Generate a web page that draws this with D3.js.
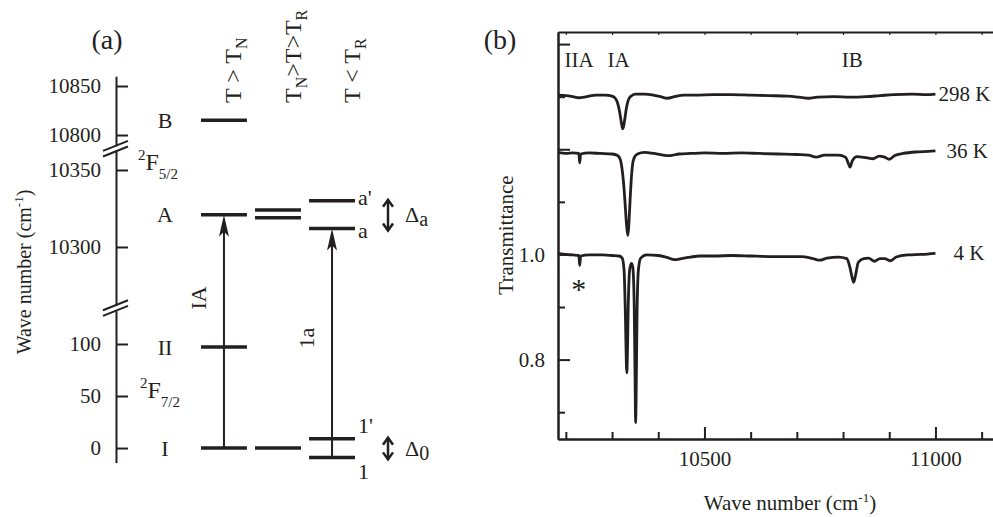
<!DOCTYPE html>
<html>
<head>
<meta charset="utf-8">
<script src="https://cdn.jsdelivr.net/npm/d3@7"></script>
<style>
  body { margin: 0; background: #fff; }
  text { font-family: "Liberation Serif", "Times New Roman", serif; fill: #231f20; }
</style>
</head>
<body>
<svg id="fig" width="993" height="517"></svg>
<script>
// ---------- panel (a): energy levels (cm-1) ----------
var lowTicks = [0, 50, 100];
var midTicks = [10300, 10350];
var highTicks = [10800, 10850];

var col1Names = ["I", "II", "A", "B"];
var col1Values = [0, 97, 10321, 10815];
var col2Values = [0, 10319, 10324];
var col3Names = ["1", "1'", "a", "a'"];
var col3Values = [-9, 9, 10312, 10330];

// ---------- panel (b): transmittance spectra [wave number, T] ----------
var spec298 = [[10183,1.303],[10200,1.302],[10215,1.300],[10228,1.298],[10245,1.300],[10265,1.303],
  [10285,1.303],[10300,1.301],[10307,1.297],[10312,1.288],[10316,1.273],[10319,1.257],[10321,1.246],
  [10323,1.239],[10325,1.244],[10328,1.260],[10331,1.278],[10335,1.293],[10341,1.301],[10350,1.305],
  [10370,1.305],[10390,1.303],[10405,1.300],[10420,1.297],[10435,1.300],[10455,1.303],[10480,1.303],
  [10520,1.304],[10560,1.304],[10600,1.303],[10640,1.302],[10680,1.301],[10705,1.299],[10725,1.297],
  [10745,1.299],[10780,1.300],[10815,1.299],[10850,1.300],[10880,1.302],[10910,1.304],[10950,1.305],
  [10980,1.304],[11000,1.305]];

var spec36 = [[10183,1.194],[10200,1.192],[10215,1.193],[10228,1.192],[10230,1.174],[10232,1.191],
  [10250,1.193],[10275,1.192],[10300,1.191],[10312,1.188],[10318,1.180],[10322,1.160],[10325,1.135],
  [10328,1.100],[10331,1.060],[10334,1.036],[10336,1.052],[10338,1.085],[10341,1.135],[10344,1.168],
  [10348,1.184],[10355,1.191],[10370,1.194],[10390,1.192],[10410,1.189],[10425,1.188],[10445,1.191],
  [10470,1.192],[10500,1.193],[10540,1.192],[10580,1.193],[10620,1.192],[10660,1.191],[10700,1.190],
  [10725,1.189],[10742,1.185],[10760,1.189],[10790,1.189],[10805,1.185],[10812,1.172],[10815,1.166],
  [10820,1.178],[10830,1.186],[10850,1.184],[10865,1.182],[10878,1.187],[10890,1.185],[10900,1.181],
  [10912,1.188],[10930,1.192],[10960,1.195],[10985,1.196],[11000,1.197]];

var spec4 = [[10183,1.002],[10200,1.000],[10215,0.999],[10228,0.998],[10230,0.979],[10232,0.997],
  [10250,0.999],[10280,0.999],[10300,0.998],[10315,0.997],[10322,0.993],[10326,0.970],[10329,0.880],
  [10331,0.790],[10332,0.775],[10333,0.800],[10335,0.900],[10338,0.970],[10342,0.983],[10345,0.975],
  [10348,0.900],[10350,0.750],[10351,0.680],[10352,0.720],[10354,0.880],[10357,0.970],[10362,0.993],
  [10375,0.999],[10400,0.998],[10420,0.994],[10435,0.990],[10450,0.992],[10470,0.995],[10490,0.997],
  [10520,0.997],[10560,0.998],[10600,0.997],[10640,0.996],[10680,0.996],[10710,0.996],[10735,0.992],
  [10750,0.989],[10765,0.993],[10790,0.995],[10808,0.992],[10815,0.975],[10820,0.955],[10823,0.947],
  [10827,0.960],[10833,0.985],[10845,0.992],[10855,0.993],[10868,0.987],[10880,0.992],[10890,0.992],
  [10903,0.988],[10915,0.995],[10940,0.999],[10970,1.000],[11000,1.002]];

var specLabels = ["298 K", "36 K", "4 K"];
var xMajor = [10500, 11000];
var xMinor = [10200, 10300, 10400, 10600, 10700, 10800, 10900, 11100];
var yMajor = [0.8, 1.0, 1.2, 1.4];
var yMinor = [0.7, 0.9, 1.1, 1.3];
var peakNames = ["IIA", "IA", "IB"];
var peakWaves = [10197, 10290, 10797];

var ink = "#231f20";
var svg = d3.select("#fig");

function styleAxis(g, size) {
  g.attr("font-size", size).attr("font-family", null);
  g.selectAll("path, line").attr("stroke", ink).attr("stroke-width", 2);
  g.selectAll("text").attr("fill", ink);
}

// ================= panel (a) =================
var axX = 116;
var yLow = d3.scaleLinear().domain([-14, 132]).range([462.6, 310.7]);
var yMid = d3.scaleLinear().domain([10262, 10362]).range([305.5, 151.5]);
var yHigh = d3.scaleLinear().domain([10789, 10860]).range([145.8, 76.2]);
function yA(v) { return v < 1000 ? yLow(v) : (v < 10500 ? yMid(v) : yHigh(v)); }

[[yLow, lowTicks], [yMid, midTicks], [yHigh, highTicks]].forEach(function (s) {
  var g = svg.append("g").attr("transform", "translate(" + axX + ",0)")
    .call(d3.axisLeft(s[0]).tickValues(s[1]).tickFormat(d3.format("d"))
      .tickSizeInner(-12).tickSizeOuter(0).tickPadding(15));
  styleAxis(g, 21);
});

// axis breaks
[(yLow.range()[1] + yMid.range()[0]) / 2, (yMid.range()[1] + yHigh.range()[0]) / 2].forEach(function (c) {
  [-2.8, 2.8].forEach(function (o) {
    svg.append("line")
      .attr("x1", axX - 13).attr("y1", c + o + 5)
      .attr("x2", axX + 12).attr("y2", c + o - 5)
      .attr("stroke", ink).attr("stroke-width", 2);
  });
});

svg.append("text").attr("transform", "translate(31,272) rotate(-90)")
  .attr("text-anchor", "middle").attr("font-size", 20)
  .call(function (t) {
    t.append("tspan").text("Wave number (cm");
    t.append("tspan").attr("dy", -8).attr("font-size", 13).text("-1");
    t.append("tspan").attr("dy", 8).text(")");
  });

svg.append("text").attr("x", 107).attr("y", 49).attr("text-anchor", "middle")
  .attr("font-size", 28).text("(a)");

var cols = d3.scaleBand().domain(["c1", "c2", "c3"]).range([201, 355]).paddingInner(0.15);
var bw = cols.bandwidth();

function levels(col, vals) {
  svg.selectAll(null).data(vals).enter().append("line")
    .attr("x1", cols(col)).attr("x2", cols(col) + bw)
    .attr("y1", function (d) { return yA(d); }).attr("y2", function (d) { return yA(d); })
    .attr("stroke", ink).attr("stroke-width", 3.5);
}
levels("c1", col1Values);
levels("c2", col2Values);
levels("c3", col3Values);

svg.selectAll(null).data(col1Values).enter().append("text")
  .attr("x", 165).attr("y", function (d) { return yA(d); }).attr("dy", "0.35em")
  .attr("text-anchor", "middle").attr("font-size", 22)
  .text(function (d, i) { return col1Names[i]; });

var col3Dy = ["1.0em", "-0.25em", "0.45em", "0.2em"];
svg.selectAll(null).data(col3Values).enter().append("text")
  .attr("x", cols("c3") + bw + 3).attr("y", function (d) { return yA(d); })
  .attr("dy", function (d, i) { return col3Dy[i]; })
  .attr("font-size", 22)
  .text(function (d, i) { return col3Names[i]; });

// term symbols
function term(x, y, sub) {
  var t = svg.append("text").attr("x", x).attr("y", y).attr("font-size", 24);
  t.append("tspan").attr("dy", -10).attr("font-size", 15).text("2");
  t.append("tspan").attr("dy", 10).text("F");
  t.append("tspan").attr("dy", 9).attr("font-size", 15).text(sub);
}
term(138, yMid(10350), "5/2");
term(140, yLow(50) + 2, "7/2");

// column headers
var headers = [
  [["T > T", 0], ["N", 1]],
  [["T", 0], ["N", 1], [">T>T", 0], ["R", 1]],
  [["T < T", 0], ["R", 1]]
];
var headerX = [241, 301, 360];
headers.forEach(function (h, i) {
  var t = svg.append("text").attr("transform", "translate(" + headerX[i] + ",103) rotate(-90)")
    .attr("font-size", 24);
  var low = 0;
  h.forEach(function (p) {
    var dy = p[1] ? 6 - low : -low;
    low = p[1] ? 6 : 0;
    t.append("tspan").attr("dy", dy).attr("font-size", p[1] ? 16 : 24).text(p[0]);
  });
});

// transitions
function arrow(col, from, to, label, ly) {
  var x = cols(col) + bw / 2;
  var y0 = yA(from), y1 = yA(to);
  svg.append("line").attr("x1", x).attr("x2", x).attr("y1", y0).attr("y2", y1 + 14)
    .attr("stroke", ink).attr("stroke-width", 2);
  svg.append("path")
    .attr("d", "M" + x + "," + y1 + "L" + (x - 5) + "," + (y1 + 22) + "L" + x + "," + (y1 + 17) +
      "L" + (x + 5) + "," + (y1 + 22) + "Z")
    .attr("fill", ink);
  svg.append("text").attr("transform", "translate(" + (x - 18) + "," + ly + ") rotate(-90)")
    .attr("text-anchor", "middle").attr("font-size", 22).text(label);
}
arrow("c1", col1Values[0], col1Values[2], "IA", 298);
arrow("c3", col3Values[0], col3Values[2], "1a", 338);

// splittings
function split(lo, hi, sym) {
  var x = 388, ya = yA(hi) - 1, yb = yA(lo) + 2;
  svg.append("line").attr("x1", x).attr("x2", x).attr("y1", ya).attr("y2", yb)
    .attr("stroke", ink).attr("stroke-width", 2.5);
  svg.append("path").attr("d", "M" + (x - 5) + "," + (ya + 7) + "L" + x + "," + ya + "L" + (x + 5) + "," + (ya + 7))
    .attr("fill", "none").attr("stroke", ink).attr("stroke-width", 2.5);
  svg.append("path").attr("d", "M" + (x - 5) + "," + (yb - 7) + "L" + x + "," + yb + "L" + (x + 5) + "," + (yb - 7))
    .attr("fill", "none").attr("stroke", ink).attr("stroke-width", 2.5);
  var t = svg.append("text").attr("x", 405).attr("y", (ya + yb) / 2 + 7).attr("font-size", 22);
  t.append("tspan").text("\u0394");
  t.append("tspan").attr("dy", 4).attr("font-size", 20).text(sym);
}
split(col3Values[2], col3Values[3], "a");
split(col3Values[0], col3Values[1], "0");

// ================= panel (b) =================
var xB = d3.scaleLinear().domain([10183, 11130]).range([558, 995.5]);
var yB = d3.scaleLinear().domain([0.649, 1.423]).range([439, 32]);

var gx = svg.append("g").attr("transform", "translate(0," + yB.range()[0] + ")")
  .call(d3.axisBottom(xB).tickValues(xMajor).tickFormat(d3.format("d"))
    .tickSizeInner(-12).tickSizeOuter(0).tickPadding(12));
styleAxis(gx, 21);
var gxm = svg.append("g").attr("transform", "translate(0," + yB.range()[0] + ")")
  .call(d3.axisBottom(xB).tickValues(xMinor).tickFormat("").tickSizeInner(-7).tickSizeOuter(0));
styleAxis(gxm, 21);
var gxt = svg.append("g").attr("transform", "translate(0," + yB.range()[1] + ")")
  .call(d3.axisBottom(xB).tickValues(xMajor.concat(xMinor)).tickFormat("").tickSizeInner(3).tickSizeOuter(0));
styleAxis(gxt, 21);
gxt.selectAll("line").attr("stroke-width", 1.2);

var gy = svg.append("g").attr("transform", "translate(" + xB.range()[0] + ",0)")
  .call(d3.axisLeft(yB).tickValues(yMajor)
    .tickFormat(function (d) { return d <= 1.0 ? d3.format(".1f")(d) : ""; })
    .tickSizeInner(-12).tickSizeOuter(0).tickPadding(13));
styleAxis(gy, 21);
var gym = svg.append("g").attr("transform", "translate(" + xB.range()[0] + ",0)")
  .call(d3.axisLeft(yB).tickValues(yMinor).tickFormat("").tickSizeInner(-7).tickSizeOuter(0));
styleAxis(gym, 21);

svg.append("text").attr("x", 790).attr("y", 510).attr("text-anchor", "middle").attr("font-size", 21)
  .call(function (t) {
    t.append("tspan").text("Wave number (cm");
    t.append("tspan").attr("dy", -8).attr("font-size", 13).text("-1");
    t.append("tspan").attr("dy", 8).text(")");
  });
svg.append("text").attr("transform", "translate(513,235) rotate(-90)")
  .attr("text-anchor", "middle").attr("font-size", 21).text("Transmittance");
svg.append("text").attr("x", 500).attr("y", 49).attr("text-anchor", "middle")
  .attr("font-size", 28).text("(b)");

var line = d3.line().x(function (d) { return xB(d[0]); }).y(function (d) { return yB(d[1]); })
  .curve(d3.curveMonotoneX);

var specs = [spec298, spec36, spec4];
var labelGap = [3, 11, 18];
specs.forEach(function (s, i) {
  svg.append("path").datum(s).attr("d", line)
    .attr("fill", "none").attr("stroke", ink).attr("stroke-width", 2.8).attr("stroke-linejoin", "round");
  var last = s[s.length - 1];
  svg.append("text").attr("x", xB(last[0]) + labelGap[i]).attr("y", yB(last[1]) + 7)
    .attr("font-size", 21).text(specLabels[i]);
});

svg.selectAll(null).data(peakWaves).enter().append("text")
  .attr("x", function (d) { return xB(d); }).attr("y", 67).attr("font-size", 21)
  .text(function (d, i) { return peakNames[i]; });

svg.append("text").attr("x", xB(10228)).attr("y", yB(0.979) + 34).attr("text-anchor", "middle")
  .attr("font-size", 30).text("*");
</script>
</body>
</html>
